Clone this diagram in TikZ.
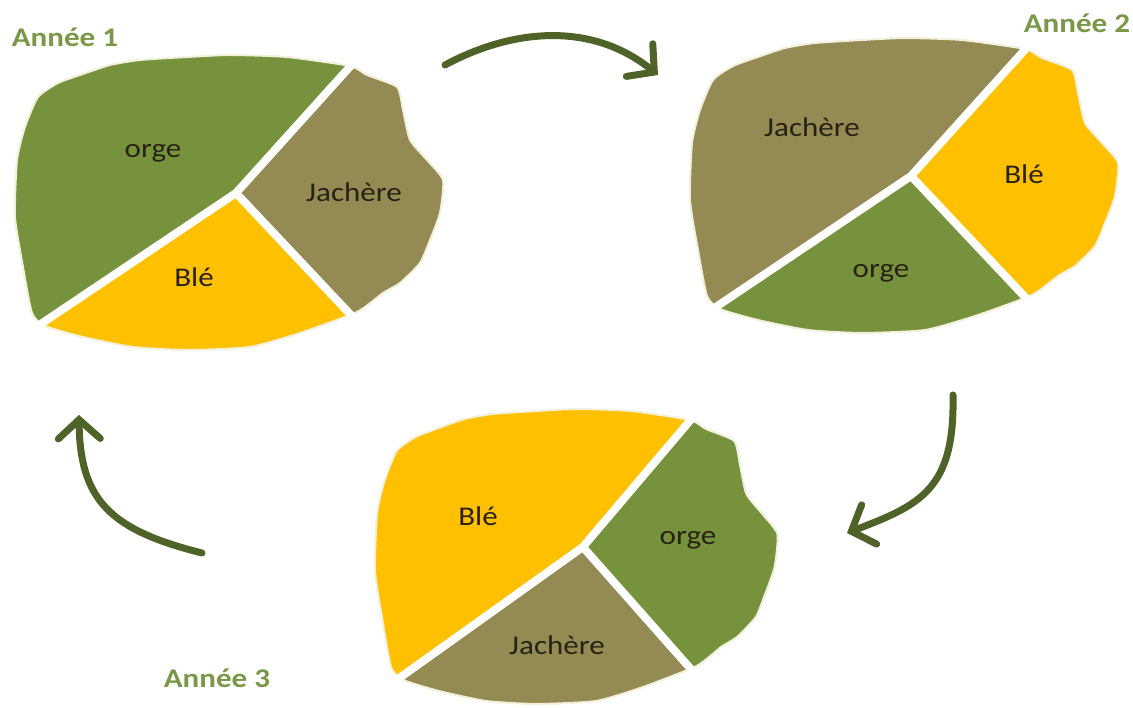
\documentclass[tikz,border=0pt]{standalone}
\usepackage{fontspec}
\setmainfont[FakeStretch=1.15]{Carlito}
\usepackage{tikz}
\usetikzlibrary{arrows.meta}

\definecolor{orge}{RGB}{118,146,60}
\definecolor{jach}{RGB}{148,138,84}
\definecolor{ble}{RGB}{255,192,0}
\definecolor{fl}{RGB}{79,98,40}
\definecolor{an}{RGB}{122,152,72}
\definecolor{bordc}{RGB}{242,240,218}
\definecolor{txt}{RGB}{40,34,20}

\tikzset{
  coupe/.style={white,line width=8pt},
  bord/.style={bordc,line width=2pt},
  fleche/.style={fl,line width=7pt,line cap=round,-{Straight Barb[length=19pt,width=42pt,line cap=round]}},
  etiq/.style={txt,font=\fontsize{27}{32}\selectfont},
  annee/.style={an,font=\fontsize{27}{32}\selectfont\bfseries}
}

% contour d'une parcelle
\def\parcelle{plot[smooth cycle,tension=0.35] coordinates {(38,97) (58,83) (80,75) (110,65) (140,60) (187,57)
  (230,55) (287,57) (350,66) (367,75) (397,87) (403,110) (410,140) (427,160) (443,180) (440,213)
  (430,240) (420,263) (400,283) (383,293) (357,312) (300,333) (250,347) (187,350) (133,347)
  (83,337) (45,326) (32,313) (23,267) (15,217) (17,160) (25,127)}}

% #1 placement, #2 grande part, #3 part droite, #4 part du bas
\newcommand{\champ}[4]{%
  \begin{scope}[#1]
    \fill[#3] \parcelle;
    \begin{scope}
      \clip \parcelle;
      \fill[#2] (-10,-10) -- (419,-10) -- (236,193) -- (-10,354) -- cycle;
      \fill[#4] (236,193) -- (-10,354) -- (-10,420) -- (450,420) -- cycle;
    \end{scope}
    \draw[bord] \parcelle;
    \draw[coupe] (365,50) -- (236,193) -- (20,338);
    \draw[coupe] (236,193) -- (365,330);
  \end{scope}}

\begin{document}
\begin{tikzpicture}[x=1pt,y=-1pt]
  \useasboundingbox (0,0) rectangle (1133,708);
  \champ{}{orge}{jach}{ble}
  \champ{shift={(675,-17)}}{jach}{ble}{orge}
  \champ{shift={(361,354)},xscale=0.94}{ble}{orge}{jach}

  \node[etiq] (orge1) at (153,153) {orge};
  \node[etiq] (jach1) at (354,192) {Jachère};
  \node[etiq] (ble1) at (194,277) {Blé};
  \node[etiq] (jach2) at (812,127) {Jachère};
  \node[etiq] (ble2) at (1024,174) {Blé};
  \node[etiq] (orge2) at (881,273) {orge};
  \node[etiq] (ble3) at (478,516) {Blé};
  \node[etiq] (orge3) at (688,540) {orge};
  \node[etiq] (jach3) at (557,645) {Jachère};

  \node[annee] (an1) at (65,37) {Année 1};
  \node[annee] (an2) at (1077,23) {Année 2};
  \node[annee] (an3) at (217,678) {Année 3};

  \coordinate (d1) at (445,65);
  \coordinate (f1) at (658,75);
  \coordinate (d2) at (953,395);
  \coordinate (f2) at (847,533);
  \coordinate (d3) at (202,553);
  \coordinate (f3) at (79,415);
  \draw[fleche] (d1) .. controls (510,30) and (590,20) .. (f1);
  \draw[fleche] (d2) .. controls (955,490) and (920,505) .. (f2);
  \draw[fleche] (d3) .. controls (110,530) and (80,500) .. (f3);
\end{tikzpicture}
\end{document}
